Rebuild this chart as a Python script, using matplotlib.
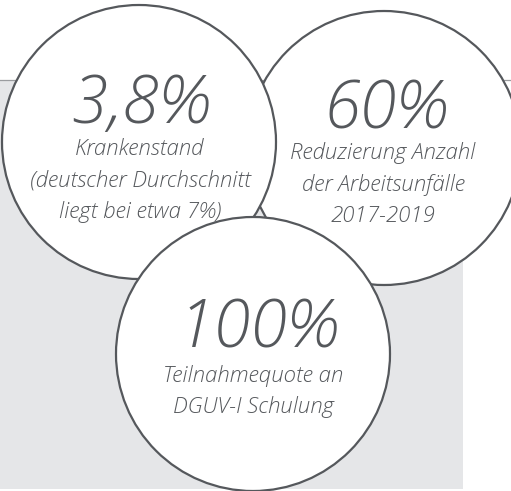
import matplotlib.pyplot as plt
from matplotlib.patches import Circle, Rectangle

# key figures shown in the three circles
values = ["3,8%", "60%", "100%"]
captions = [
    ["Krankenstand", "(deutscher Durchschnitt", "liegt bei etwa 7%)"],
    ["Reduzierung Anzahl", "der Arbeitsunfälle", "2017-2019"],
    ["Teilnahmequote an", "DGUV-I Schulung"],
]

# layout in pixel coordinates (x, y from top-left)
centers = [(139, 142), (384, 148), (253, 354)]
radius = 137
value_baselines = [123, 128, 348]
value_x = [141, 386, 258]
caption_first_baseline = [155, 159, 382]
caption_x = [140, 383, 253]
caption_step = 31.5
draw_order = [1, 0, 2]

text_color = "#55585c"
edge_color = "#55585c"
panel_color = "#e5e6e8"

plt.rcParams["font.family"] = ["Open Sans", "DejaVu Sans"]

fig = plt.figure(figsize=(5.11, 4.91), dpi=100)
ax = fig.add_axes([0, 0, 1, 1])
ax.set_xlim(0, 511)
ax.set_ylim(491, 0)
ax.axis("off")

# grey panel behind the circles
ax.add_patch(Rectangle((0, 80), 463, 409, facecolor=panel_color, edgecolor="none", zorder=0))
ax.plot([0, 511], [80, 80], color="#9a9c9f", lw=0.9, zorder=1)

for z, i in enumerate(draw_order):
    ax.add_patch(Circle(centers[i], radius, facecolor="white", edgecolor=edge_color,
                        lw=1.6, zorder=2 + z * 2))
    ax.text(value_x[i], value_baselines[i], values[i], ha="center", va="baseline",
            fontsize=48, fontstyle="italic", fontweight="light", color=text_color,
            zorder=3 + z * 2)
    for j, line in enumerate(captions[i]):
        ax.text(caption_x[i], caption_first_baseline[i] + j * caption_step, line,
                ha="center", va="baseline", fontsize=16, fontstyle="italic",
                fontweight="light", color=text_color, zorder=3 + z * 2)

fig.savefig("out.png", dpi=100)
